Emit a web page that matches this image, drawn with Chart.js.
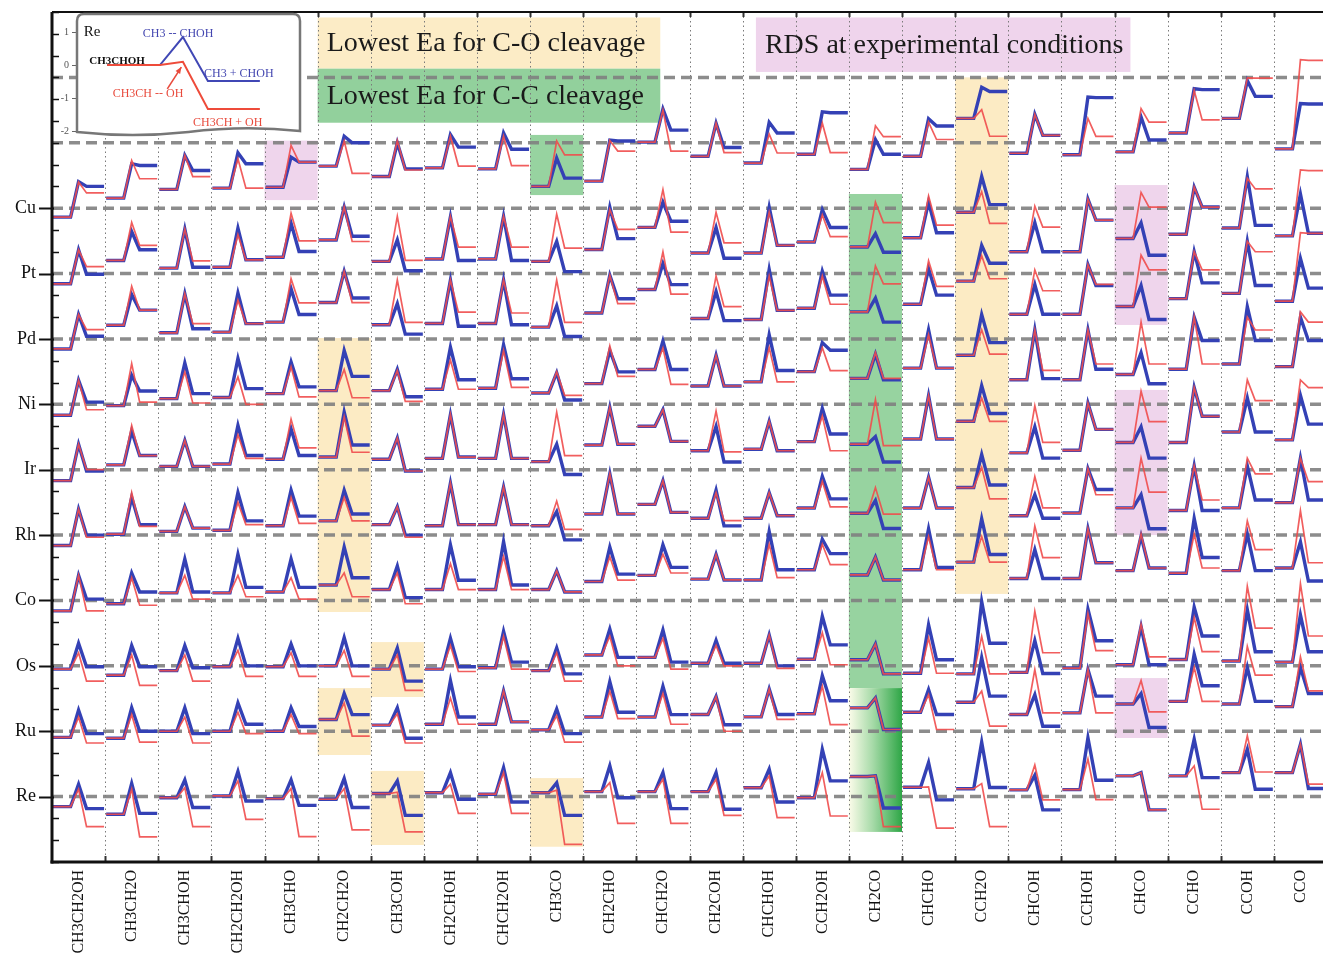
<!DOCTYPE html>
<html>
<head>
<meta charset="utf-8">
<script src="https://cdn.jsdelivr.net/npm/chart.js@4.4.1/dist/chart.umd.min.js"></script>
<style>
  html, body { margin: 0; padding: 0; background: #fff; overflow: hidden; }
  #wrap { position: relative; width: 1323px; height: 959px; overflow: hidden; }
  #main { position: absolute; left: 0; top: 0; }
  #inset { position: absolute; left: 40px; top: 10px; }
</style>
</head>
<body>
<div id="wrap">
  <canvas id="main" width="1332" height="959"></canvas>
  <canvas id="inset" width="270" height="135"></canvas>
</div>
<script>
const species = ['CH3CH2OH', 'CH3CH2O', 'CH3CHOH', 'CH2CH2OH', 'CH3CHO', 'CH2CH2O', 'CH3COH', 'CH2CHOH',
  'CHCH2OH', 'CH3CO', 'CH2CHO', 'CHCH2O', 'CH2COH', 'CHCHOH', 'CCH2OH', 'CH2CO', 'CHCHO', 'CCH2O',
  'CHCOH', 'CCHOH', 'CHCO', 'CCHO', 'CCOH', 'CCO'];
const metals = ['Cu', 'Pt', 'Pd', 'Ni', 'Ir', 'Rh', 'Co', 'Os', 'Ru', 'Re'];
const rowGap = 3; // each metal sits 3 units above the next one

// per species: [initial, TS C-O, final C-O, TS C-C, final C-C], relative to the metal's zero line
const Cu = [[-0.41,1.2,0.7,1.22,1.0],[0.46,2.19,1.35,2.04,1.96],[0.86,2.42,1.45,2.42,1.73],[0.92,2.27,0.92,2.54,2.04],
  [0.96,2.88,2.11,2.34,2.11],[1.93,3.08,1.6,3.3,3.0],[1.45,3.1,1.75,3.0,1.8],[1.85,3.3,1.93,3.38,2.8],
  [1.8,3.3,1.95,3.45,2.7],[1.0,3.08,2.44,2.3,1.38],[1.24,3.1,2.62,3.12,3.08],[3.03,4.5,2.62,4.55,3.58],
  [2.38,3.9,2.55,3.9,2.78],[2.07,3.4,2.53,3.94,3.45],[2.47,3.9,2.55,4.42,4.38],[1.78,3.78,3.28,3.15,2.47],
  [2.38,3.95,3.15,4.1,3.77],[4.12,4.52,3.3,5.55,5.35],[2.52,4.3,3.34,4.3,3.34],[2.45,4.12,3.29,5.1,5.07],
  [2.58,4.57,3.95,4.19,3.13],[3.45,5.4,4.05,5.48,5.44],[4.12,5.98,5.97,5.85,5.13],[2.72,6.81,6.78,4.8,4.78]];
const Pt = [[-0.47,1.09,0.32,1.09,-0.03],[0.6,2.34,1.29,1.93,1.09],[0.25,2.04,0.58,2.04,0.29],[0.29,1.78,0.63,2.08,0.63],
  [0.75,2.77,1.5,2.31,1.01],[1.54,3.05,1.47,3.05,1.71],[0.56,2.62,0.6,1.54,0.13],[0.67,2.62,1.21,2.6,0.6],
  [0.67,2.62,1.21,2.62,0.6],[0.56,2.73,1.17,1.47,0.09],[1.1,2.94,2.03,3.05,1.6],[2.12,3.85,1.9,3.27,2.4],
  [0.94,2.81,1.41,2.11,0.7],[0.94,2.81,1.29,3.04,1.29],[1.45,2.69,1.69,2.93,2.11],[1.22,3.28,2.34,1.83,0.98],
  [1.64,3.56,2.22,3.28,1.87],[2.81,3.75,2.3,4.45,3.16],[1.0,3.09,2.13,2.33,1.0],[1.0,3.41,2.45,3.41,2.45],
  [1.61,3.72,3.05,2.33,0.84],[1.8,3.96,3.05,3.96,3.05],[2.09,4.37,3.88,4.44,2.21],[1.73,4.75,4.72,3.65,1.85]];
const Pd = [[-0.46,1.12,0.43,1.12,0.12],[0.63,2.42,1.32,2.04,1.32],[0.28,2.07,0.7,2.07,0.47],[0.31,1.78,0.7,2.11,0.7],
  [0.77,2.76,1.65,2.3,1.12],[1.67,3.1,1.67,3.1,1.88],[0.65,2.7,0.76,1.62,0.22],[0.71,2.7,1.23,2.7,0.58],
  [0.71,2.7,1.19,2.7,0.65],[0.54,2.7,0.76,1.52,0.11],[1.19,2.92,1.62,2.92,1.84],[2.27,4.0,2.06,3.46,2.49],
  [0.94,2.88,1.48,2.18,0.84],[0.89,2.88,1.31,3.19,1.31],[1.41,2.88,1.59,3.11,2.01],[1.24,3.35,2.53,1.87,0.77],
  [1.59,3.58,2.41,3.23,2.01],[2.65,3.82,2.76,4.29,3.47],[1.13,3.17,2.21,2.49,1.13],[1.13,3.41,2.5,3.41,2.45],
  [1.49,3.84,3.17,2.45,0.89],[1.85,4.0,3.17,4.0,2.57],[2.09,4.48,4.0,4.48,2.45],[1.73,4.88,4.84,3.69,2.33]];
const Ni = [[-0.5,1.1,-0.25,1.1,0.1],[-0.06,1.87,0.1,1.33,0.61],[0.26,1.49,0.06,1.9,0.49],[0.31,1.26,0.0,2.1,0.72],
  [0.49,1.72,0.34,1.94,0.8],[0.63,1.6,0.3,2.47,1.28],[0.63,1.55,0.13,1.6,0.35],[0.69,2.03,0.69,2.62,1.13],
  [0.74,2.47,0.78,2.73,1.17],[0.52,1.49,0.41,1.45,0.2],[0.95,2.68,1.28,2.47,1.49],[1.6,2.58,0.91,2.9,1.6],
  [0.84,2.25,0.84,2.25,0.84],[1.03,2.6,1.03,3.19,1.55],[1.5,2.6,1.55,2.83,2.48],[1.19,2.37,1.19,2.3,1.12],
  [1.66,3.19,1.66,3.42,1.66],[2.25,3.42,2.3,4.12,2.83],[1.13,3.41,1.56,3.41,1.18],[1.13,3.41,1.85,3.41,1.61],
  [1.37,3.77,1.85,2.37,0.94],[1.61,4.0,1.85,4.0,2.93],[1.85,4.0,3.41,4.48,2.93],[1.73,4.24,3.77,4.0,2.93]];
const Ir = [[-0.5,1.17,0.0,1.17,-0.06],[0.22,2.03,0.65,1.77,0.65],[0.15,1.34,0.15,1.34,0.15],[0.26,1.6,0.52,2.03,0.65],
  [0.48,2.32,1.0,1.88,0.65],[0.58,2.42,0.8,2.64,1.13],[0.48,1.45,-0.06,1.45,-0.06],[0.52,2.53,0.58,2.53,0.58],
  [0.52,2.53,0.52,2.53,0.52],[0.37,2.64,0.65,1.17,-0.22],[1.13,2.86,1.17,2.86,1.17],[1.99,2.75,1.3,2.75,1.3],
  [0.87,2.69,0.82,1.99,0.35],[0.94,2.22,0.87,2.22,0.87],[1.29,2.46,0.87,2.81,1.64],[1.17,3.21,1.1,1.52,0.35],
  [1.41,3.4,1.41,3.4,1.41],[2.22,3.28,2.22,3.86,2.58],[0.77,2.93,1.25,1.97,0.53],[0.89,3.05,1.85,3.05,1.85],
  [1.25,3.6,2.21,1.97,0.53],[1.25,3.77,2.45,3.77,2.45],[1.73,4.12,3.17,3.29,1.73],[1.37,4.12,3.77,3.41,2.09]];
const Rh = [[-0.48,1.19,-0.1,1.19,0.0],[0.04,1.95,0.4,1.73,0.48],[0.17,1.3,0.32,1.3,0.32],[0.22,1.5,0.48,1.95,0.65],
  [0.43,1.73,0.54,2.06,0.87],[0.65,1.73,0.65,2.06,0.97],[0.48,1.3,-0.1,1.3,0.0],[0.43,2.38,0.48,2.38,0.48],
  [0.48,2.2,0.48,2.2,0.48],[0.43,1.56,0.26,1.08,-0.22],[0.97,2.81,0.97,2.81,0.97],[1.41,2.49,1.04,2.49,1.04],
  [0.77,1.94,0.66,2.06,0.42],[0.77,1.94,0.89,1.94,0.89],[1.24,2.46,1.29,2.69,1.66],[1.0,2.18,0.96,1.59,0.3],
  [1.24,2.65,1.24,2.65,1.24],[2.18,3.11,1.66,3.7,2.3],[0.89,2.69,1.25,1.85,0.77],[1.01,3.05,1.85,3.05,2.09],
  [1.25,3.53,1.97,1.85,0.29],[1.13,3.17,1.61,3.17,1.13],[1.25,3.53,2.81,3.17,1.61],[1.49,3.53,2.45,3.53,1.61]];
const Co = [[-0.48,1.15,-0.48,1.15,0.06],[-0.15,1.04,-0.22,1.26,0.39],[0.35,1.15,0.06,1.9,0.39],[0.35,1.15,0.17,2.12,0.6],
  [0.39,1.04,0.06,1.9,0.6],[0.71,1.26,0.17,2.45,1.04],[0.5,1.26,-0.15,1.58,0.13],[0.5,1.69,0.5,2.55,0.93],
  [0.5,2.01,0.5,2.7,0.71],[0.5,1.36,0.39,1.36,0.39],[0.87,2.01,0.93,2.45,1.21],[1.15,2.12,1.26,2.55,1.52],
  [0.98,2.11,0.94,2.11,0.94],[0.94,2.58,1.05,3.16,1.41],[1.41,2.58,1.64,2.81,2.15],[1.17,1.99,0.94,1.99,0.94],
  [1.41,2.93,1.41,3.28,1.52],[1.76,2.93,1.76,3.75,2.11],[1.01,3.41,1.97,2.33,1.01],[1.01,3.29,1.73,3.29,1.73],
  [1.37,3.05,1.49,2.95,1.49],[1.25,3.05,1.49,3.77,1.97],[1.37,3.65,2.33,3.05,1.37],[1.49,4.12,1.73,2.69,0.89]];
const Os = [[-0.15,0.6,-0.7,1.04,-0.04],[-0.43,0.5,-0.9,0.93,-0.04],[-0.22,0.5,-0.7,0.93,-0.09],[-0.04,0.71,-0.48,1.26,0.0],
  [-0.04,0.6,-0.48,1.0,0.0],[0.0,0.71,-0.48,1.3,0.0],[-0.15,0.5,-1.13,0.82,-0.7],[-0.15,0.93,-0.26,1.26,-0.04],
  [-0.09,1.36,-0.15,1.58,0.17],[-0.22,0.6,-0.7,0.82,-0.37],[0.5,1.36,0.0,1.69,0.39],[0.39,1.26,-0.15,1.64,0.17],
  [0.12,0.94,0.0,1.17,0.12],[0.12,1.41,-0.12,1.41,0.0],[0.3,1.52,0.05,2.27,0.96],[0.28,1.0,-0.37,1.0,-0.37],
  [-0.34,1.27,-0.34,1.88,0.28],[-0.37,1.35,-0.37,2.95,1.04],[-0.3,2.5,0.6,1.16,-0.35],[-0.1,2.4,0.7,2.6,1.15],
  [0.05,1.9,0.41,1.8,0.05],[0.29,2.21,0.65,2.69,1.37],[0.22,3.65,1.73,2.57,0.65],[0.17,3.77,1.37,2.33,0.65]];
const Ru = [[-0.28,0.65,-0.54,0.97,-0.11],[-0.32,0.76,-0.5,1.08,0.0],[0.0,0.65,-0.54,1.08,-0.11],[0.0,0.87,-0.11,1.3,0.32],
  [0.0,0.76,-0.11,1.08,0.22],[0.54,1.3,-0.22,1.73,0.76],[0.28,0.8,-0.54,1.08,-0.32],[0.32,1.52,0.32,2.32,0.65],
  [0.32,1.84,0.43,1.84,0.43],[0.06,0.71,-0.5,1.02,-0.11],[0.65,1.84,0.58,2.27,0.87],[0.65,1.73,0.32,2.06,0.76],
  [0.77,1.59,0.0,1.59,0.3],[0.66,1.94,0.54,1.94,0.77],[0.8,2.06,0.3,2.55,1.4],[1.07,1.53,0.08,1.53,0.08],
  [0.87,1.68,0.08,1.91,0.77],[1.33,1.84,0.23,3.37,1.61],[0.77,2.83,0.84,1.68,0.23],[0.84,2.83,0.84,2.83,1.61],
  [1.25,2.33,0.89,1.73,0.17],[1.37,2.93,1.37,3.53,2.09],[1.25,3.89,2.57,2.93,1.37],[1.13,3.41,1.85,2.93,1.73]];
const Re = [[-0.46,0.34,-1.38,0.57,-0.55],[-0.81,0.34,-1.85,0.6,-0.77],[-0.05,0.41,-1.38,0.77,-0.5],[0.03,0.72,-1.04,1.15,-0.2],
  [-0.09,0.37,-1.84,0.77,-0.4],[-0.12,0.37,-1.53,0.83,-0.5],[0.14,0.2,-1.62,0.72,-0.86],[0.18,0.57,-0.77,1.1,-0.12],
  [0.11,1.1,-0.77,1.33,-0.25],[0.18,0.3,-2.19,0.64,-0.86],[0.23,0.64,-1.23,1.41,-0.05],[0.23,0.8,-1.23,1.1,-0.55],
  [0.23,0.8,-0.86,1.1,-0.58],[0.41,0.95,-0.96,1.26,-0.25],[-0.05,1.1,-0.89,2.17,0.72],[0.92,0.95,-1.38,0.95,-0.52],
  [0.43,0.45,-1.45,1.56,-0.15],[0.36,0.6,-1.38,2.5,0.42],[0.31,1.45,-0.15,0.98,-0.61],[0.32,1.72,-0.14,2.7,0.75],
  [0.95,1.1,-0.61,1.1,-0.61],[0.95,1.41,-0.58,2.63,0.87],[1.1,2.79,1.13,2.17,0.34],[1.1,2.4,0.57,2.4,0.37]];
const energies = { Cu, Pt, Pd, Ni, Ir, Rh, Co, Os, Ru, Re };

// shaded cells: [first column, end column, low energy, high energy]
const coBoxes = [[5, 6, 8.47, 21.04], [5, 6, 1.91, 4.98], [6, 7, 4.57, 7.09], [6, 7, -2.22, 1.18], [9, 10, -2.3, 0.85], [17, 18, 9.3, 33.0]];
const ccBoxes = [[9, 10, 27.6, 30.36], [15, 16, 4.98, 27.65]];
const ccFade = [15, 16, -1.62, 4.98];
const rdsBoxes = [[4, 5, 27.37, 30.1], [20, 21, 21.64, 28.06], [20, 21, 12.0, 18.66], [20, 21, 2.69, 5.44]];
const tags = [
  { text: 'Lowest Ea for C-O cleavage', box: [5.0, 11.45, 33.4, 35.75], color: '#fcecc6' },
  { text: 'Lowest Ea for C-C cleavage', box: [5.0, 11.45, 30.92, 33.4], color: '#92d09c' },
  { text: 'RDS at experimental conditions', box: [13.25, 20.3, 33.25, 35.75], color: '#efd4ec' }
];

// inset example (Re, CH3CHOH)
const insetX = [0.135, 0.372, 0.475, 0.587, 0.82];
const insetCC = [0, 0, 0.85, -0.48, -0.48];
const insetCO = [0, 0, 0.1, -1.33, -1.33];

const xs = [0.02, 0.35, 0.5, 0.65, 0.98];
function pathPoints(rows, off, ts, fs) {
  const pts = [];
  rows.forEach((r, i) => {
    const ys = [r[0], r[0], r[ts], r[fs], r[fs]];
    xs.forEach((f, j) => pts.push({ x: i + f, y: off + ys[j] }));
    pts.push({ x: i + 0.99, y: null });
  });
  return pts;
}

const datasets = [];
metals.forEach((m, k) => {
  const off = rowGap * (metals.length - 1 - k);
  datasets.push({ label: m + ' C-C', data: pathPoints(energies[m], off, 3, 4), showLine: true, spanGaps: false,
    borderColor: '#3441b5', borderWidth: 3.4, pointRadius: 0, order: 2 });
  datasets.push({ label: m + ' C-O', data: pathPoints(energies[m], off, 1, 2), showLine: true, spanGaps: false,
    borderColor: 'rgba(240,76,76,0.9)', borderWidth: 1.7, pointRadius: 0, order: 1 });
});

const serif = '"Liberation Serif", "DejaVu Serif", serif';

function line(ctx, x0, y0, x1, y1) {
  ctx.beginPath(); ctx.moveTo(x0, y0); ctx.lineTo(x1, y1); ctx.stroke();
}

const decor = {
  id: 'decor',
  beforeDatasetsDraw(chart) {
    const { ctx, chartArea: a, scales: { x, y } } = chart;
    const rect = (b, fill) => {
      const x0 = x.getPixelForValue(b[0]), x1 = x.getPixelForValue(b[1]);
      const y0 = y.getPixelForValue(b[3]), y1 = y.getPixelForValue(b[2]);
      ctx.fillStyle = fill;
      ctx.fillRect(x0, y0, x1 - x0, y1 - y0);
    };
    ctx.save();
    tags.forEach(t => rect(t.box, t.color));
    coBoxes.forEach(b => rect(b, '#fcebc4'));
    ccBoxes.forEach(b => rect(b, '#97d3a0'));
    rdsBoxes.forEach(b => rect(b, '#efd5ec'));
    const g = ctx.createLinearGradient(x.getPixelForValue(ccFade[0]), 0, x.getPixelForValue(ccFade[1]), 0);
    g.addColorStop(0, '#fcfcea');
    g.addColorStop(0.45, '#a6daa8');
    g.addColorStop(1, '#2ea646');
    rect(ccFade, g);

    // column separators
    ctx.strokeStyle = '#7a7a7a';
    ctx.lineWidth = 1;
    ctx.setLineDash([1.5, 3]);
    for (let i = 1; i <= species.length; i++) {
      const px = Math.round(x.getPixelForValue(i)) + 0.5;
      line(ctx, px, a.top, px, a.bottom);
    }
    // zero line of every metal
    ctx.strokeStyle = 'rgba(128,128,128,0.9)';
    ctx.lineWidth = 3.5;
    ctx.setLineDash([11, 6]);
    for (let v = 0; v <= 33; v += rowGap) {
      const py = y.getPixelForValue(v);
      line(ctx, a.left, py, chart.width, py);
    }
    ctx.restore();
  },
  afterDatasetsDraw(chart) {
    const { ctx, chartArea: a, scales: { x, y } } = chart;
    ctx.save();
    ctx.strokeStyle = '#111';
    // y tick marks
    for (let v = -3; v <= 36; v++) {
      const py = Math.round(y.getPixelForValue(v)) + 0.5;
      if (v % rowGap === 0 && v >= 0 && v <= 27) {
        ctx.lineWidth = 2;
        line(ctx, a.left - 13, py, a.left + 2, py);
      } else {
        ctx.lineWidth = 1.5;
        line(ctx, a.left, py, a.left + 7, py);
      }
    }
    // small marks on top and bottom border at the column edges
    ctx.lineWidth = 2;
    ctx.strokeStyle = '#333';
    for (let i = 1; i <= species.length; i++) {
      const px = Math.round(x.getPixelForValue(i)) + 0.5;
      line(ctx, px, a.bottom - 6, px, a.bottom);
      line(ctx, px, a.top, px, a.top + 5);
    }
    // frame
    ctx.strokeStyle = '#111';
    ctx.lineWidth = 3;
    line(ctx, a.left, a.top, a.left, a.bottom + 1.5);
    line(ctx, a.left - 1.5, a.bottom, chart.width, a.bottom);
    ctx.lineWidth = 2;
    line(ctx, a.left, a.top, chart.width, a.top);
    // tag texts
    ctx.fillStyle = '#1a1a1a';
    ctx.font = '28px ' + serif;
    ctx.textBaseline = 'middle';
    tags.forEach(t => {
      const px = x.getPixelForValue(t.box[0]) + 9;
      const py = (y.getPixelForValue(t.box[2]) + y.getPixelForValue(t.box[3])) / 2 + 1;
      ctx.fillText(t.text, px, py);
    });
    ctx.restore();
  }
};

new Chart(document.getElementById('main').getContext('2d'), {
  type: 'scatter',
  data: { datasets },
  options: {
    responsive: false,
    animation: false,
    devicePixelRatio: 1,
    layout: { padding: { top: 12, right: 5, left: 0, bottom: 0 } },
    elements: { line: { tension: 0, borderJoinStyle: 'miter', borderCapStyle: 'butt' } },
    plugins: { legend: { display: false }, tooltip: { enabled: false } },
    scales: {
      x: {
        type: 'linear', min: 0, max: species.length,
        grid: { display: false, drawTicks: false },
        border: { display: false },
        afterBuildTicks: s => { s.ticks = species.map((_, i) => ({ value: i + 0.5 })); },
        ticks: {
          autoSkip: false, minRotation: 90, maxRotation: 90, padding: 8, color: '#111',
          font: { family: serif, size: 16 },
          callback: (v, i) => species[i]
        },
        afterFit: s => { s.height = 97; s.paddingLeft = 0; s.paddingRight = 0; }
      },
      y: {
        type: 'linear', min: -3, max: 36,
        grid: { display: false, drawTicks: false },
        border: { display: false },
        afterBuildTicks: s => { s.ticks = metals.map((_, k) => ({ value: rowGap * (metals.length - 1 - k) })); },
        ticks: {
          autoSkip: false, padding: 16, color: '#111',
          font: { family: serif, size: 18 },
          callback: v => metals[metals.length - 1 - Math.round(v / rowGap)]
        },
        afterFit: s => { s.width = 52; s.paddingTop = 0; s.paddingBottom = 0; }
      }
    }
  },
  plugins: [decor]
});

// ---- inset legend ----
const insetDecor = {
  id: 'insetDecor',
  beforeDatasetsDraw(chart) {
    const { ctx, chartArea: a } = chart;
    ctx.save();
    const r = 7, l = a.left, t = a.top, w = a.right - a.left, h = a.bottom - a.top;
    ctx.beginPath();
    ctx.moveTo(l + r, t);
    ctx.lineTo(l + w - r, t);
    ctx.quadraticCurveTo(l + w, t, l + w, t + r);
    ctx.lineTo(l + w, t + h - 4);
    ctx.quadraticCurveTo(l + w * 0.75, t + h - 10, l + w * 0.5, t + h - 3);
    ctx.quadraticCurveTo(l + w * 0.25, t + h + 3, l, t + h - 3);
    ctx.lineTo(l, t + r);
    ctx.quadraticCurveTo(l, t, l + r, t);
    ctx.closePath();
    ctx.fillStyle = '#fff';
    ctx.fill();
    ctx.strokeStyle = '#777';
    ctx.lineWidth = 2.5;
    ctx.stroke();
    ctx.restore();
  },
  afterDatasetsDraw(chart) {
    const { ctx, scales: { x, y } } = chart;
    const put = (txt, vx, vy, color, font) => {
      ctx.fillStyle = color;
      ctx.font = font;
      ctx.fillText(txt, x.getPixelForValue(vx), y.getPixelForValue(vy));
    };
    ctx.save();
    ctx.textBaseline = 'alphabetic';
    put('Re', 0.03, 0.88, '#111', '15px ' + serif);
    put('CH3CHOH', 0.055, 0.02, '#111', 'bold 11px ' + serif);
    put('CH3 -- CHOH', 0.295, 0.85, '#4346b0', '12px ' + serif);
    put('CH3 + CHOH', 0.57, -0.36, '#4346b0', '12px ' + serif);
    put('CH3CH -- OH', 0.16, -0.97, '#e84a3c', '12px ' + serif);
    put('CH3CH + OH', 0.52, -1.86, '#e84a3c', '12px ' + serif);
    // arrow
    const x0 = x.getPixelForValue(0.405), y0 = y.getPixelForValue(-0.72);
    const x1 = x.getPixelForValue(0.468), y1 = y.getPixelForValue(-0.06);
    ctx.strokeStyle = '#e84a3c';
    ctx.fillStyle = '#e84a3c';
    ctx.lineWidth = 1.6;
    line(ctx, x0, y0, x1, y1);
    const ang = Math.atan2(y1 - y0, x1 - x0);
    ctx.beginPath();
    ctx.moveTo(x1, y1);
    ctx.lineTo(x1 - 7 * Math.cos(ang - 0.4), y1 - 7 * Math.sin(ang - 0.4));
    ctx.lineTo(x1 - 7 * Math.cos(ang + 0.4), y1 - 7 * Math.sin(ang + 0.4));
    ctx.closePath();
    ctx.fill();
    ctx.restore();
  }
};

new Chart(document.getElementById('inset').getContext('2d'), {
  type: 'scatter',
  data: {
    datasets: [
      { data: insetX.map((v, i) => ({ x: v, y: insetCC[i] })), showLine: true, borderColor: '#4047b5', borderWidth: 2, pointRadius: 0, order: 2 },
      { data: insetX.map((v, i) => ({ x: v, y: insetCO[i] })), showLine: true, borderColor: '#ee4b3a', borderWidth: 2, pointRadius: 0, order: 1 }
    ]
  },
  options: {
    responsive: false,
    animation: false,
    devicePixelRatio: 1,
    layout: { padding: { top: 4, right: 10, bottom: 10, left: 0 } },
    elements: { line: { tension: 0 } },
    plugins: { legend: { display: false }, tooltip: { enabled: false } },
    scales: {
      x: { type: 'linear', min: 0, max: 1, display: false },
      y: {
        type: 'linear', min: -2.12, max: 1.55,
        afterBuildTicks: s => { s.ticks = [-2, -1, 0, 1].map(v => ({ value: v })); },
        grid: { drawOnChartArea: false, drawTicks: true, tickLength: 5, color: '#666' },
        border: { display: false },
        ticks: { padding: 3, color: '#555', font: { family: serif, size: 10 } },
        afterFit: s => { s.width = 37; s.paddingTop = 0; s.paddingBottom = 0; }
      }
    }
  },
  plugins: [insetDecor]
});
</script>
</body>
</html>
